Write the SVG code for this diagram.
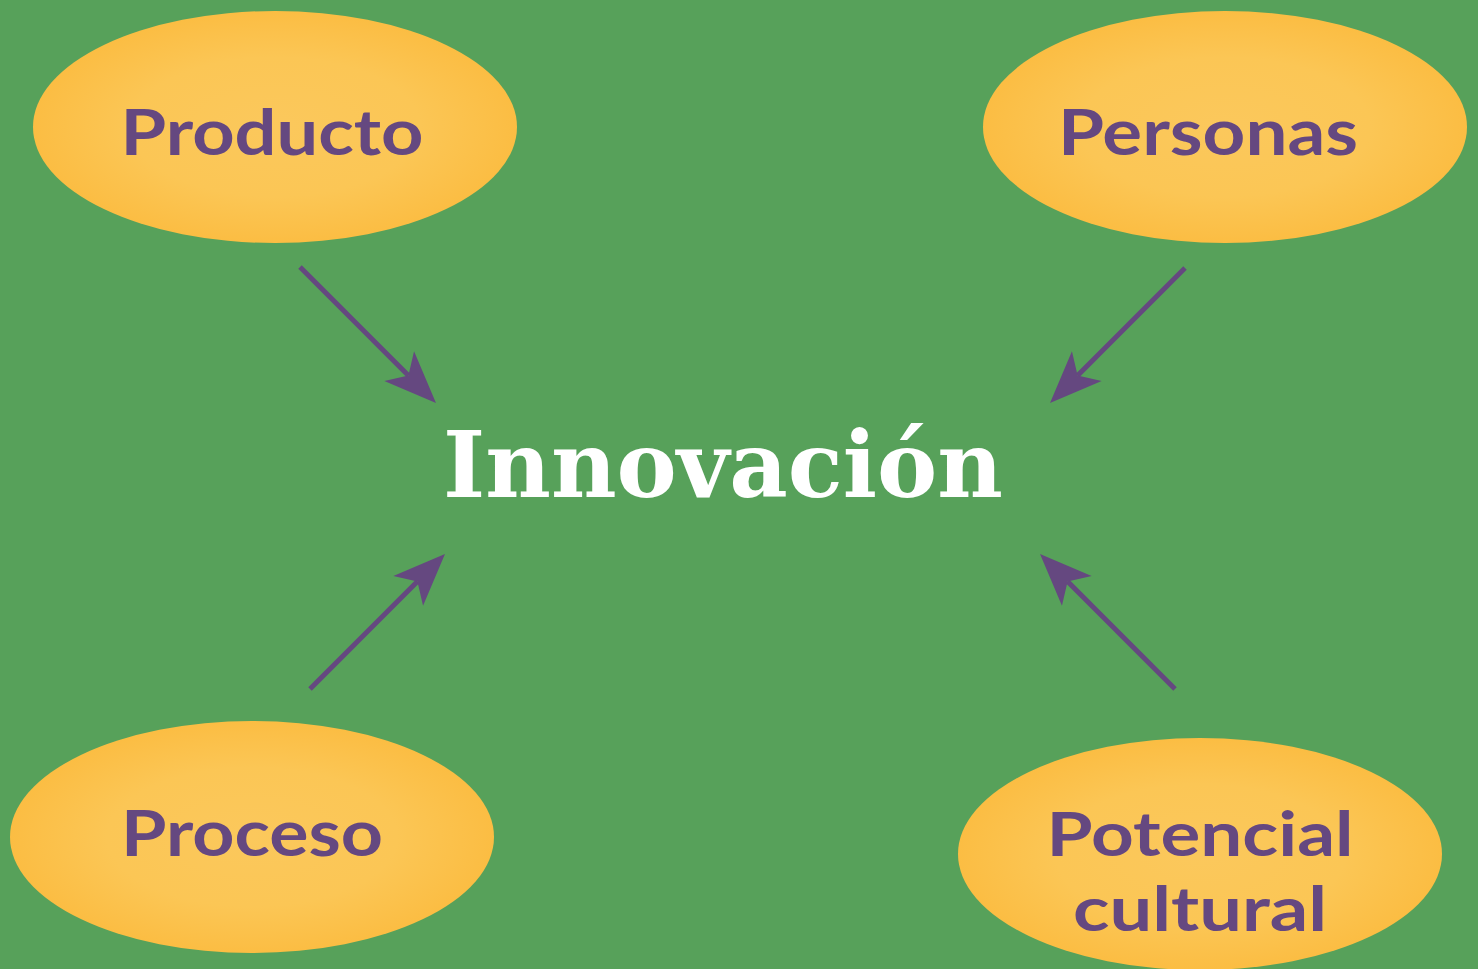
<svg xmlns="http://www.w3.org/2000/svg" width="1478" height="969" viewBox="0 0 1478 969">
<defs>
<radialGradient id="fillG" cx="50%" cy="50%" r="50%">
<stop offset="0" stop-color="#FBC85C"/>
<stop offset="0.6" stop-color="#FBC655"/>
<stop offset="1" stop-color="#FBBD43"/>
</radialGradient>
<marker id="ah" markerUnits="userSpaceOnUse" orient="auto" refX="0" refY="0" markerWidth="60" markerHeight="50" overflow="visible">
<path d="M39,0 L-13,21 L0,0 L-13,-21 Z" fill="#654880"/>
</marker>
<style>
.node ellipse { fill: url(#fillG); }
.lbl { font-family: Lato, "Open Sans", "Liberation Sans", sans-serif; font-weight: 700; font-size: 64px; fill: #654880; text-anchor: middle; }
.lbl2 { font-size: 62px; }
.conn line { stroke: #654880; stroke-width: 5; marker-end: url(#ah); }
.title { font-family: "DejaVu Serif", "Liberation Serif", serif; font-weight: 700; font-size: 92px; fill: #FFFFFF; }
</style>
</defs>
<rect width="1478" height="969" fill="#57A15A"/>
<g id="producto" class="node">
<ellipse cx="275" cy="127" rx="242" ry="116"/>
<text class="lbl" x="272" y="155" textLength="303" lengthAdjust="spacingAndGlyphs">Producto</text>
</g>
<g id="personas" class="node">
<ellipse cx="1225" cy="127" rx="242" ry="116"/>
<text class="lbl" x="1208" y="155" textLength="300" lengthAdjust="spacingAndGlyphs">Personas</text>
</g>
<g id="proceso" class="node">
<ellipse cx="252" cy="837" rx="242" ry="116"/>
<text class="lbl" x="252" y="856" textLength="262" lengthAdjust="spacingAndGlyphs">Proceso</text>
</g>
<g id="potencial" class="node">
<ellipse cx="1200" cy="854" rx="242" ry="116"/>
<text class="lbl lbl2" x="1200" y="856" textLength="307" lengthAdjust="spacingAndGlyphs">Potencial</text>
<text class="lbl lbl2" x="1200" y="931" textLength="254" lengthAdjust="spacingAndGlyphs">cultural</text>
</g>
<g id="innovacion">
<text class="title" x="443" y="497" textLength="560" lengthAdjust="spacingAndGlyphs">Innovación</text>
</g>
<g id="connectors" class="conn">
<line x1="300" y1="267" x2="408.4" y2="375.4"/>
<line x1="1185" y1="268" x2="1077.6" y2="375.4"/>
<line x1="310" y1="689" x2="417.4" y2="581.6"/>
<line x1="1175" y1="689" x2="1067.6" y2="581.6"/>
</g>
</svg>
